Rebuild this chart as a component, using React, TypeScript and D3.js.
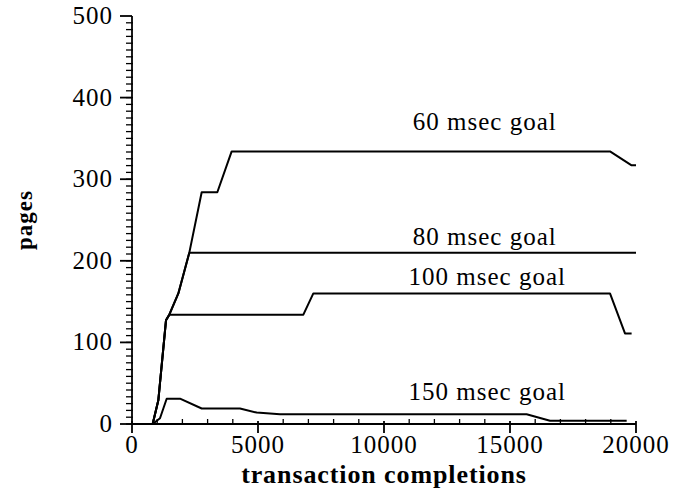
import React, { useEffect, useRef } from "react";
import * as d3 from "d3";

// axis ticks
const xTicks = [0, 5000, 10000, 15000, 20000];
const yTicks = [0, 100, 200, 300, 400, 500];

// series, [transaction completions, pages]
const goal60 = [[820, 0], [1045, 29], [1349, 127], [1480, 134], [1839, 160], [2275, 210], [2765, 284], [3386, 284], [3955, 334], [18968, 334], [19826, 317], [20000, 317]];
const goal80 = [[820, 0], [1045, 29], [1349, 127], [1480, 134], [1839, 160], [2275, 210], [20000, 210]];
const goal100 = [[820, 0], [1045, 29], [1349, 127], [1480, 134], [6800, 134], [7196, 160], [18968, 160], [19563, 111], [19826, 111]];
const goal150 = [[820, 0], [1111, 7], [1376, 31], [1905, 31], [2765, 19], [4286, 19], [4947, 14], [5873, 12], [15660, 12], [16587, 4], [19630, 4]];

const seriesNames = ["60 msec goal", "80 msec goal", "100 msec goal", "150 msec goal"];
// where each label sits, in data units
const labelX = [14000, 14000, 14100, 14100];
const labelY = [360, 219, 170, 29];

export default function App() {
  const ref = useRef(null);

  useEffect(() => {
    const svg = d3.select(ref.current);
    svg.selectAll("*").remove();

    const x = d3.scaleLinear().domain([0, 20000]).range([132, 636]);
    const y = d3.scaleLinear().domain([0, 500]).range([424, 16]);
    const font = "'Liberation Serif', 'Times New Roman', serif";

    svg.append("rect").attr("width", 685).attr("height", 493).attr("fill", "#fff");

    const g = svg.append("g").attr("stroke", "#000").attr("stroke-width", 1.8).attr("fill", "none");

    // axes lines
    g.append("line").attr("x1", x(0)).attr("x2", x(0)).attr("y1", y(500)).attr("y2", y(0));
    g.append("line").attr("x1", x(0)).attr("x2", x(20000)).attr("y1", y(0)).attr("y2", y(0));

    // y minor ticks
    const yMinor = d3.range(0, 500, 100 / 12);
    g.selectAll(".ymin").data(yMinor).join("line")
      .attr("x1", x(0) - 6).attr("x2", x(0) + 1)
      .attr("y1", d => y(d)).attr("y2", d => y(d))
      .attr("stroke-width", 1.3);
    // y major ticks
    g.selectAll(".ymaj").data(yTicks).join("line")
      .attr("x1", x(0) - 12).attr("x2", x(0))
      .attr("y1", d => y(d)).attr("y2", d => y(d));

    // x minor ticks
    const xMinor = d3.range(1000, 20001, 1000).filter(d => d % 5000 !== 0);
    g.selectAll(".xmin").data(xMinor).join("line")
      .attr("x1", d => x(d)).attr("x2", d => x(d))
      .attr("y1", y(0)).attr("y2", y(0) - 5)
      .attr("stroke-width", 1.3);
    g.selectAll(".xmaj").data(xTicks).join("line")
      .attr("x1", d => x(d)).attr("x2", d => x(d))
      .attr("y1", y(0) - 3).attr("y2", y(0) + 9);

    // tick labels
    svg.selectAll(".ylab").data(yTicks).join("text")
      .attr("x", 113).attr("y", d => y(d) + 8)
      .attr("text-anchor", "end")
      .attr("font-family", font).attr("font-size", 25).attr("letter-spacing", 1)
      .text(d => d);
    svg.selectAll(".xlab").data(xTicks).join("text")
      .attr("x", d => x(d)).attr("y", 453)
      .attr("text-anchor", "middle")
      .attr("font-family", font).attr("font-size", 25).attr("letter-spacing", 1)
      .text(d => d);

    // series
    const line = d3.line().x(d => x(d[0])).y(d => y(d[1]));
    const all = [goal60, goal80, goal100, goal150];
    g.selectAll(".series").data(all).join("path")
      .attr("d", d => line(d))
      .attr("stroke-width", 2)
      .attr("stroke-linejoin", "round");

    svg.selectAll(".slab").data(seriesNames).join("text")
      .attr("x", (d, i) => x(labelX[i]))
      .attr("y", (d, i) => y(labelY[i]))
      .attr("text-anchor", "middle")
      .attr("font-family", font).attr("font-size", 25).attr("letter-spacing", 1)
      .text(d => d);

    // axis titles
    svg.append("text")
      .attr("x", 384).attr("y", 483)
      .attr("text-anchor", "middle")
      .attr("font-family", font).attr("font-size", 26).attr("font-weight", "bold")
      .attr("letter-spacing", 0.9)
      .text("transaction completions");
    svg.append("text")
      .attr("transform", "translate(32, 220) rotate(-90)")
      .attr("text-anchor", "middle")
      .attr("font-family", font).attr("font-size", 23).attr("font-weight", "bold")
      .attr("letter-spacing", 1)
      .text("pages");
  }, []);

  return (
    <svg ref={ref} width={685} height={493} style={{ position: "absolute", left: 0, top: 0 }} />
  );
}
